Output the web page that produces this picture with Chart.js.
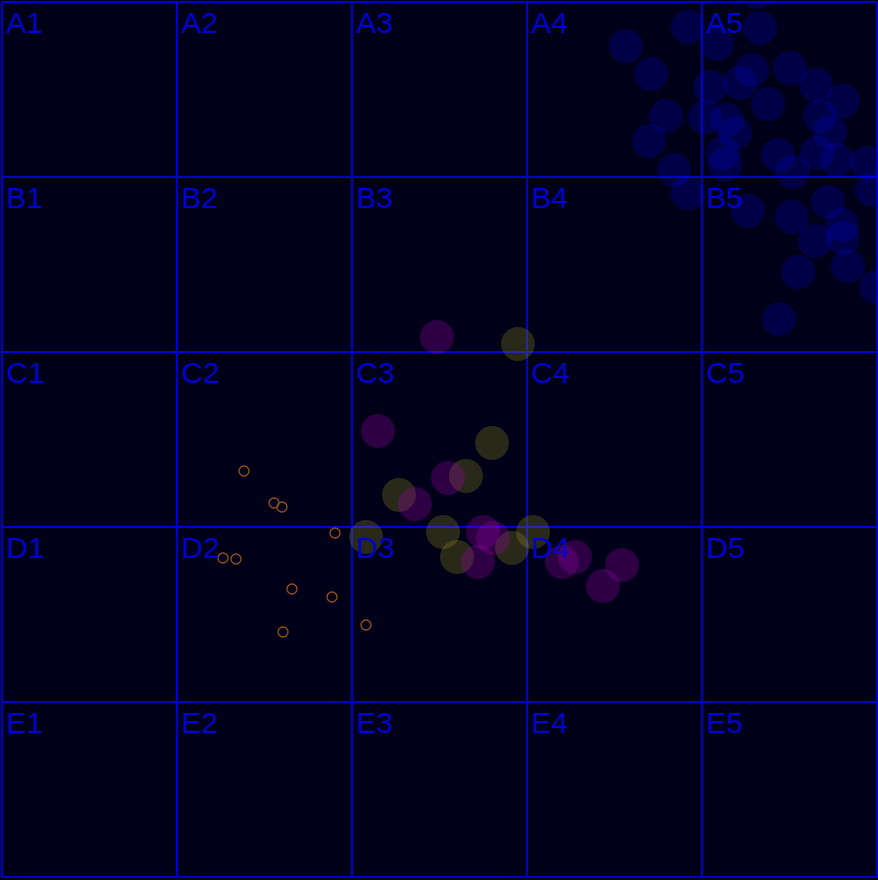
<!DOCTYPE html>
<html>
<head>
<meta charset="utf-8">
<script src="https://cdn.jsdelivr.net/npm/chart.js@4"></script>
<style>
  html, body { margin: 0; padding: 0; background: #000018; }
  canvas { display: block; }
</style>
</head>
<body>
<canvas id="c" width="878" height="880"></canvas>
<script>
// Grid labels
const rowLabels = ['A', 'B', 'C', 'D', 'E'];
const colLabels = ['1', '2', '3', '4', '5'];
const cellSize = 175;

// Series (x, y in grid units: 175 per cell, y counted downward)
const blueX = [624, 686, 715, 758, 755, 649, 708, 738, 750, 788, 814, 841, 766, 664, 703, 725, 733, 818, 828, 647, 721, 776, 815, 835, 865, 870, 672, 723, 791, 686, 746, 790, 826, 840, 841, 813, 796, 846, 777, 874];
const blueY = [44, 25, 42, 26, -10, 72, 85, 81, 68, 66, 83, 99, 102, 114, 115, 118, 131, 114, 130, 139, 151, 153, 151, 158, 161, 188, 168, 163, 170, 191, 209, 215, 200, 223, 236, 239, 270, 264, 317, 285];

const purpleX = [435, 376, 446, 413, 481, 491, 476, 560, 573, 620, 601];
const purpleY = [335, 429, 476, 502, 530, 536, 560, 560, 555, 563, 584];

const oliveX = [516, 490, 464, 397, 364, 441, 531, 455, 510];
const oliveY = [342, 441, 474, 493, 535, 530, 530, 555, 546];

const orangeX = [242, 272, 280, 333, 221, 234, 290, 330, 281, 364];
const orangeY = [469, 501, 505, 531, 556, 557, 587, 595, 630, 623];

const toPts = (xs, ys) => xs.map((x, i) => ({ x: x, y: ys[i] }));

const gridBlue = '#0000cc';

const cellLabelPlugin = {
  id: 'cellLabels',
  afterDatasetsDraw(chart) {
    const { ctx, scales } = chart;
    const xs = scales.x, ys = scales.y;
    ctx.save();
    ctx.font = '30px "Liberation Sans", Arial, sans-serif';
    ctx.fillStyle = '#0000d8';
    ctx.textBaseline = 'alphabetic';
    ctx.textAlign = 'left';
    rowLabels.forEach((r, ri) => {
      colLabels.forEach((c, ci) => {
        const px = xs.getPixelForValue(ci * cellSize);
        const py = ys.getPixelForValue(ri * cellSize);
        ctx.fillText(r + c, px + 4, py + 30.5);
      });
    });
    ctx.restore();
  }
};

const bgPlugin = {
  id: 'bg',
  beforeDraw(chart) {
    const { ctx } = chart;
    ctx.save();
    ctx.fillStyle = '#000018';
    ctx.fillRect(0, 0, chart.width, chart.height);
    ctx.restore();
  }
};

new Chart(document.getElementById('c'), {
  type: 'scatter',
  data: {
    datasets: [
      {
        label: 'blue',
        data: toPts(blueX, blueY),
        pointRadius: 17,
        pointHoverRadius: 17,
        backgroundColor: 'rgba(0,0,255,0.2)',
        borderWidth: 0
      },
      {
        label: 'purple',
        data: toPts(purpleX, purpleY),
        pointRadius: 17,
        pointHoverRadius: 17,
        backgroundColor: 'rgba(160,0,180,0.28)',
        borderWidth: 0
      },
      {
        label: 'olive',
        data: toPts(oliveX, oliveY),
        pointRadius: 17,
        pointHoverRadius: 17,
        backgroundColor: 'rgba(150,150,30,0.27)',
        borderWidth: 0
      },
      {
        label: 'orange',
        data: toPts(orangeX, orangeY),
        pointRadius: 5,
        pointHoverRadius: 5,
        backgroundColor: 'rgba(0,0,0,0)',
        borderColor: '#96501c',
        borderWidth: 1.3
      }
    ]
  },
  options: {
    responsive: false,
    animation: false,
    events: [],
    layout: { autoPadding: false, padding: { left: 2, top: 2, right: 1, bottom: 3 } },
    plugins: { legend: { display: false }, tooltip: { enabled: false } },
    scales: {
      x: {
        type: 'linear',
        min: 0,
        max: 5 * cellSize,
        ticks: { display: false, stepSize: cellSize },
        grid: { color: gridBlue, lineWidth: 2, drawTicks: false },
        border: { display: true, color: gridBlue, width: 2 }
      },
      y: {
        type: 'linear',
        reverse: true,
        min: 0,
        max: 5 * cellSize,
        ticks: { display: false, stepSize: cellSize },
        grid: { color: gridBlue, lineWidth: 2, drawTicks: false },
        border: { display: true, color: gridBlue, width: 2 }
      }
    }
  },
  plugins: [bgPlugin, cellLabelPlugin]
});
</script>
</body>
</html>
